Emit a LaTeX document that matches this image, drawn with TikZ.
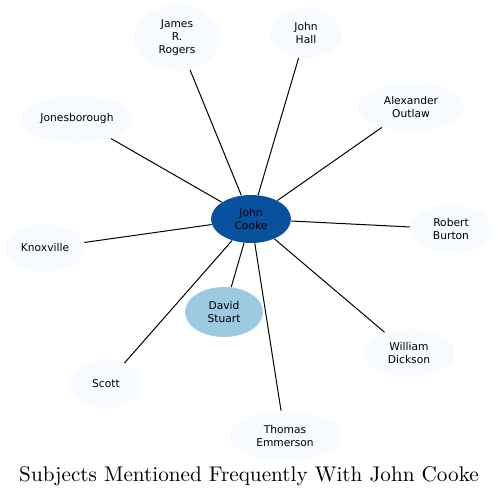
\documentclass[tikz,border=0pt]{standalone}
\usepackage{fontspec}
\newfontfamily\nodefont{DejaVu Sans}
\usetikzlibrary{shapes.geometric}
\definecolor{cookeblue}{HTML}{08519C}
\definecolor{stuartblue}{HTML}{9ECAE1}
\definecolor{paleblue}{HTML}{F7FBFF}

\begin{document}
\begin{tikzpicture}[
  x=0.5pt, y=-0.5pt,
  every node/.style={font=\nodefont\fontsize{5.35}{6.4}\selectfont, align=center},
  subject/.style={ellipse, fill=paleblue, inner sep=0pt, minimum height=24pt},
  central/.style={ellipse, fill=cookeblue, inner sep=0pt,
                  minimum width=40pt, minimum height=24pt},
  near/.style={ellipse, fill=stuartblue, inner sep=0pt,
               minimum width=39pt, minimum height=25pt},
  link/.style={draw=black, line width=0.5pt},
]
\useasboundingbox (0,0) rectangle (498,498);

%% Centre and its closest subject
\node[central] (cooke) at (251,219) {John\\Cooke};
\node[near] (stuart) at (224,312) {David\\Stuart};

%% Outer ring (pixel positions, y down)
\node[subject, minimum width=43pt, minimum height=33pt] (rogers) at (177,38) {James\\R.\\Rogers};
\node[subject, minimum width=36pt, minimum height=25pt] (hall) at (306,33) {John\\Hall};
\node[subject, minimum width=53pt] (outlaw) at (411,107) {Alexander\\Outlaw};
\node[subject, minimum width=56pt] (jonesb) at (77,119) {Jonesborough};
\node[subject, minimum width=41pt] (burton) at (451,229) {Robert\\Burton};
\node[subject, minimum width=40pt] (knox) at (45,248) {Knoxville};
\node[subject, minimum width=46pt] (dickson) at (409,353) {William\\Dickson};
\node[subject, minimum width=36pt] (scott) at (106,384) {Scott};
\node[subject, minimum width=56pt, minimum height=25pt] (emmerson) at (285,436) {Thomas\\Emmerson};

%% Links from the centre
\foreach \other in {stuart, rogers, hall, outlaw, jonesb, burton, knox, dickson, scott, emmerson}{
  \draw[link] (cooke) -- (\other);
}

%% Title
\node[font=\fontsize{10.6}{13}\selectfont] (title) at (249,476)
  {Subjects Mentioned Frequently With John Cooke};

\end{tikzpicture}
\end{document}
